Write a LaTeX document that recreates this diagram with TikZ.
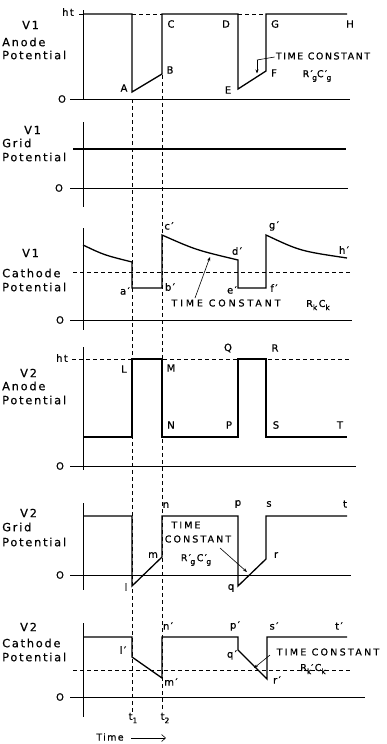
\documentclass[tikz,border=0pt]{standalone}
\usepackage{fontspec}
\setmainfont[LetterSpace=14,FakeBold=0.6]{DejaVu Sans}
\usetikzlibrary{arrows.meta}
\newcommand\lsb[1]{\raisebox{-0.6ex}{\fontsize{7.5}{8}\selectfont #1}}
\newcommand\pr{′}
\newcommand\rpg[1]{#1\pr\kern-0.5pt\lsb{g}}
\begin{document}
\begin{tikzpicture}[x=1pt,y=-1pt,
  sig/.style={line width=1.3pt, line join=miter},
  ax/.style={line width=0.9pt},
  dsh/.style={line width=0.7pt, dash pattern=on 4pt off 3pt},
  lbl/.style={font=\fontsize{10}{10}\selectfont, inner sep=0pt},
  side/.style={font=\fontsize{11.3}{12}\selectfont\addfontfeature{LetterSpace=16}, inner sep=0pt, anchor=west},
  tc/.style={font=\fontsize{9.5}{10}\selectfont, inner sep=0pt},
  ldr/.style={line width=0.6pt},
  ldra/.style={line width=0.6pt, -{Stealth[length=4pt,width=3pt]}}]
\useasboundingbox (0,0) rectangle (386,744);

% ---------- time markers ----------
\draw[dsh] (132,99) -- (132,712);
\draw[dsh] (162,75) -- (162,712);

% ---------- Panel 1: V1 anode ----------
\draw[ax] (83,10) -- (83,100);
\draw[ax] (70,99) -- (350,99);
\draw[ax] (79,14) -- (83,14);
\node[lbl] (ht1) at (68,12) {ht};
\node[lbl] (o1) at (62,99) {O};
\node[side] (s1a) at (22,25) {V1};
\node[side] (s1b) at (2,42) {Anode};
\node[side] (s1c) at (2,55) {Potential};
\draw[sig] (83,14) -- (132,14) -- (132,92) coordinate (A) -- (162,74) coordinate (B)
  -- (162,14) coordinate (C) -- (238,14) coordinate (D) -- (238,89) coordinate (E)
  -- (266,71) coordinate (F) -- (266,14) coordinate (G) -- (347,14) coordinate (H);
\draw[dsh] (132,14) -- (162,14);
\draw[dsh] (238,14) -- (266,14);
\node[lbl] (lA) at (124,88) {A};
\node[lbl] (lB) at (170,70) {B};
\node[lbl] (lC) at (171,24) {C};
\node[lbl] (lD) at (226,24) {D};
\node[lbl] (lG) at (275,24) {G};
\node[lbl] (lH) at (350,24) {H};
\node[lbl] (lE) at (228,90) {E};
\node[lbl] (lF) at (274,73) {F};
\node[tc, font=\fontsize{9.5}{10}\selectfont\addfontfeature{LetterSpace=16}] (tc1) at (323,56) {TIME CONSTANT};
\node[tc] (rc1) at (317,76) {\rpg{R}\rpg{C}};
\coordinate (k1) at (257,60);
\coordinate (e1) at (257,73.5);
\draw[ldr] (tc1.west) ++(-1,1) -- (k1);
\draw[ldra] (k1) -- (e1);

% ---------- Panel 2: V1 grid ----------
\draw[ax] (83,122) -- (83,207);
\draw[ax] (70,188) -- (348,188);
\node[lbl] (o2) at (59,188) {O};
\draw[sig] (73,149) coordinate (g0) -- (346,149) coordinate (g1);
\node[side] (s2a) at (24,130) {V1};
\node[side] (s2b) at (2,143) {Grid};
\node[side] (s2c) at (2,157) {Potential};

% ---------- Panel 3: V1 cathode ----------
\draw[ax] (83,228) -- (83,330);
\draw[ax] (70,320) -- (352,320);
\node[lbl] (o3) at (60,320) {O};
\draw[dsh] (73,272) -- (352,272);
\node[side] (s3a) at (22,253) {V1};
\node[side] (s3b) at (2,273) {Cathode};
\node[side] (s3c) at (2,287) {Potential};
\draw[sig] (83,245) .. controls (104,255) .. (132,262) -- (132,288) coordinate (a1)
  -- (162,288) coordinate (b1) -- (162,235) coordinate (c1)
  .. controls (196,250) .. (238,260) coordinate (d1) -- (238,288) coordinate (e1p)
  -- (266,288) coordinate (f1) -- (266,235) coordinate (g1p)
  .. controls (300,251) .. (347,258) coordinate (h1);
\node[lbl] (la1) at (125,291) {a\pr};
\node[lbl] (lb1) at (170,287) {b\pr};
\node[lbl] (lc1) at (169,226) {c\pr};
\node[lbl] (ld1) at (237,251) {d\pr};
\node[lbl] (le1) at (232,290) {e\pr};
\node[lbl] (lf1) at (274,288) {f\pr};
\node[lbl] (lg1) at (274,226) {g\pr};
\node[lbl] (lh1) at (344,250) {h\pr};
\node[tc, font=\fontsize{9.5}{10}\selectfont\addfontfeature{LetterSpace=30}] (tc3) at (226,303) {TIME CONSTANT};
\node[tc] (rc3) at (318,305) {R\lsb{k}\,C\lsb{k}};
\coordinate (t3) at (195,298);
\coordinate (u3) at (210,257);
\draw[ldra] (t3) -- (u3);

% ---------- Panel 4: V2 anode ----------
\draw[ax] (83,347) -- (83,470);
\draw[ax] (70,466) -- (356,466);
\node[lbl] (o4) at (60,466) {O};
\node[lbl] (ht4) at (62,358) {ht};
\draw[dsh] (72,359) -- (350,359);
\node[side] (s4a) at (20,373) {V2};
\node[side] (s4b) at (2,386) {Anode};
\node[side] (s4c) at (2,400) {Potential};
\draw[sig] (83,437) -- (132,437) -- (132,359) coordinate (L) -- (162,359) coordinate (M)
  -- (162,437) coordinate (N) -- (238,437) coordinate (P) -- (238,359) coordinate (Q)
  -- (266,359) coordinate (R) -- (266,437) coordinate (S) -- (347,437) coordinate (T);
\node[lbl] (lL) at (124,369) {L};
\node[lbl] (lM) at (171,368) {M};
\node[lbl] (lQ) at (228,348) {Q};
\node[lbl] (lR) at (275,348) {R};
\node[lbl] (lN) at (171,425) {N};
\node[lbl] (lP) at (229,425) {P};
\node[lbl] (lS) at (276,425) {S};
\node[lbl] (lT) at (340,425) {T};

% ---------- Panel 5: V2 grid ----------
\draw[ax] (83,503) -- (83,590);
\draw[ax] (70,575) -- (351,575);
\node[lbl] (o5) at (60,575) {O};
\node[side] (s5a) at (20,513) {V2};
\node[side] (s5b) at (2,527) {Grid};
\node[side] (s5c) at (2,542) {Potential};
\draw[sig] (83,516) -- (132,516) -- (132,586) coordinate (l2) -- (162,557) coordinate (m2)
  -- (162,516) coordinate (n2) -- (238,516) coordinate (p2) -- (238,586) coordinate (q2)
  -- (266,559) coordinate (r2) -- (266,516) coordinate (s2) -- (347,516) coordinate (t2);
\node[lbl] (ln2) at (166,505) {n};
\node[lbl] (lp2) at (238,504) {p};
\node[lbl] (ls2) at (269,504) {s};
\node[lbl] (lt2) at (345,504) {t};
\node[lbl] (lm2) at (153,555) {m};
\node[lbl] (lr2) at (276,555) {r};
\node[lbl] (ll2) at (126,587) {l};
\node[lbl] (lq2) at (231,588) {q};
\node[tc, font=\fontsize{9.5}{10}\selectfont\addfontfeature{LetterSpace=22}] (tc5a) at (186,525) {TIME};
\node[tc, font=\fontsize{9.5}{10}\selectfont\addfontfeature{LetterSpace=22}] (tc5b) at (198,539) {CONSTANT};
\node[tc] (rc5) at (196,560) {\rpg{R}\,\rpg{C}};
\coordinate (t5) at (220,548);
\coordinate (u5) at (247,572);
\draw[ldra] (t5) -- (u5);

% ---------- Panel 6: V2 cathode ----------
\draw[ax] (83,623) -- (83,717);
\draw[ax] (70,697) -- (365,697);
\node[lbl] (o6) at (60,697) {O};
\draw[dsh] (73,670) -- (350,670);
\node[side] (s6a) at (20,627) {V2};
\node[side] (s6b) at (2,643) {Cathode};
\node[side] (s6c) at (2,657) {Potential};
\draw[sig] (83,637) -- (132,637) -- (132,657) coordinate (l3) -- (162,678) coordinate (m3)
  -- (162,637) coordinate (n3) -- (238,637) coordinate (p3) -- (238,650) coordinate (q3)
  -- (267,679) coordinate (r3) -- (267,637) coordinate (s3) -- (347,637) coordinate (t3p);
\node[lbl] (ln3) at (168,626) {n\pr};
\node[lbl] (lp3) at (235,626) {p\pr};
\node[lbl] (ls3) at (274,626) {s\pr};
\node[lbl] (lt3) at (339,626) {t\pr};
\node[lbl] (ll3) at (123,650) {l\pr};
\node[lbl] (lm3) at (171,682) {m\pr};
\node[lbl] (lq3) at (232,655) {q\pr};
\node[lbl] (lr3) at (277,680) {r\pr};
\node[tc, font=\fontsize{9.5}{10}\selectfont\addfontfeature{LetterSpace=24}] (tc6) at (328,652) {TIME CONSTANT};
\node[tc] (rc6) at (313,669) {R\lsb{k}\pr C\lsb{k}};
\coordinate (t6) at (270,655);
\coordinate (u6) at (254,668);
\draw[ldra] (t6) -- (u6);

\node[lbl] (tt1) at (133,718) {t\lsb{1}};
\node[lbl] (tt2) at (165,718) {t\lsb{2}};
\node[lbl, font=\fontsize{9.5}{10}\selectfont] (time) at (110,737) {Time};
\coordinate (ar0) at (131,738);
\coordinate (ar1) at (166,738);
\draw[line width=0.6pt, -{Straight Barb[length=4pt,width=7pt]}] (ar0) -- (ar1);
\end{tikzpicture}
\end{document}
